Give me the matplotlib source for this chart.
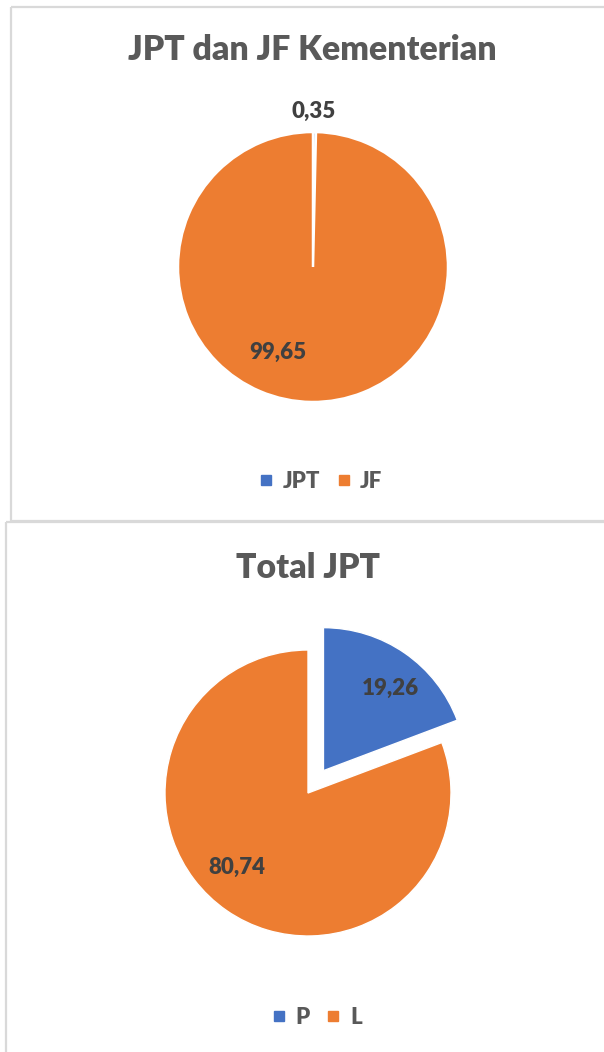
import matplotlib
matplotlib.use("Agg")
import matplotlib.pyplot as plt
from matplotlib.patches import Rectangle
from matplotlib.lines import Line2D

W, H = 604, 1052

# chart 1
TITLE1 = "JPT dan JF Kementerian"
CATS1 = ["JPT", "JF"]
VALS1 = [0.35, 99.65]
# chart 2
TITLE2 = "Total JPT"
CATS2 = ["P", "L"]
VALS2 = [19.26, 80.74]
EXPLODE2 = [0.19, 0.0]   # fraction of radius

COLORS = ["#4472C4", "#ED7D31"]
TXT = "#595959"
LBL = "#404040"
BORDER = "#d9d9d9"
FONT = "Lato"
WT = "heavy"

def fmt(v):
    return f"{v:.2f}".replace(".", ",")

fig = plt.figure(figsize=(W / 100, H / 100), dpi=100)
ax = fig.add_axes([0, 0, 1, 1])

# panel borders (pixel coords, y down)
ax.add_patch(Rectangle((11, 7), 610, 514, fill=False, ec=BORDER, lw=1.6))
ax.add_patch(Rectangle((6, 522), 620, 545, fill=False, ec=BORDER, lw=1.6, zorder=0))

# pies: y axis points down, so counterclock=True gives clockwise on screen
r1, r2 = 135, 143
ax.pie(VALS1, colors=COLORS, startangle=-90, counterclock=True, center=(313, 267), radius=r1,
       wedgeprops=dict(edgecolor="white", linewidth=1.8), frame=True)
ax.pie(VALS2, colors=COLORS, startangle=-90, counterclock=True, center=(308, 793), radius=r2,
       explode=[e * r2 for e in EXPLODE2], wedgeprops=dict(edgecolor="white", linewidth=1.0), frame=True)
ax.set_xlim(0, W); ax.set_ylim(H, 0); ax.set_aspect("equal"); ax.axis("off")

# titles
ax.text(312, 50, TITLE1, ha="center", va="center", fontsize=24.3, fontweight=WT, color=TXT, family=FONT)
ax.text(308, 568, TITLE2, ha="center", va="center", fontsize=24.3, fontweight=WT, color=TXT, family=FONT)

# data labels
lab_pos1 = [(314, 111), (278, 352)]
for v, (x, y) in zip(VALS1, lab_pos1):
    ax.text(x, y, fmt(v), ha="center", va="center", fontsize=16, fontweight=WT, color=LBL, family=FONT)
lab_pos2 = [(390, 688), (237, 867)]
for v, (x, y) in zip(VALS2, lab_pos2):
    ax.text(x, y, fmt(v), ha="center", va="center", fontsize=16, fontweight=WT, color=LBL, family=FONT)

# legends
def legend(cats, y, cx):
    h = [Line2D([], [], ls="none", marker="s", ms=7.5, mfc=c, mec=c) for c in COLORS]
    lg = ax.legend(h, cats, loc="center", bbox_to_anchor=(cx / W, 1 - y / H), ncol=2, frameon=False,
                   handlelength=0.6, handletextpad=0.45, columnspacing=0.75,
                   prop=dict(family=FONT, weight=WT, size=16))
    for t in lg.get_texts():
        t.set_color(TXT)
    return lg

ax.add_artist(legend(CATS1, 481, 321))
legend(CATS2, 1017, 317)

fig.savefig("out.png", dpi=100)
